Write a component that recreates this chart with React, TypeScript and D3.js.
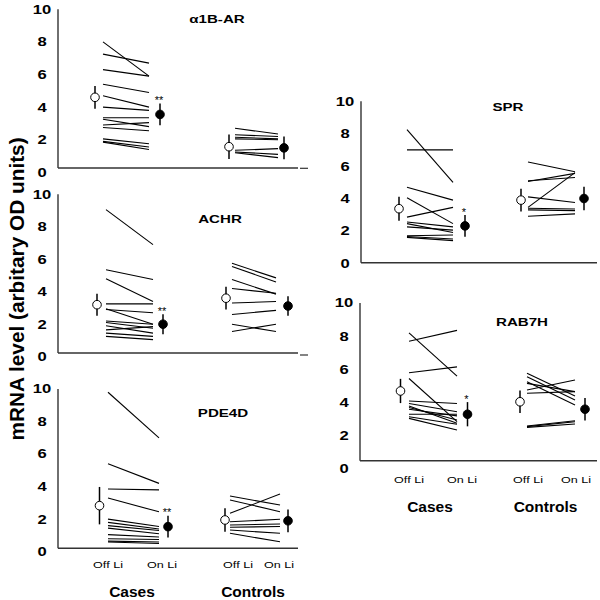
import React from "react";
import * as d3 from "d3";

// ---------- data (mRNA level, arbitrary OD units) ----------
const panelNames = ["α1B-AR", "ACHR", "PDE4D", "SPR", "RAB7H"];
const starLabels = ["**", "**", "**", "*", "*"];
const yTicks = [0, 2, 4, 6, 8, 10];
const xTickLabels = ["Off Li", "On Li", "Off Li", "On Li"];
const groupLabels = ["Cases", "Controls"];
const yTitle = "mRNA level (arbitary OD units)";

// α1B-AR
const a1bCasesOff = [8.0, 7.25, 6.3, 5.4, 4.7, 4.0, 3.35, 3.25, 2.9, 2.75, 2.05, 1.9, 1.85];
const a1bCasesOn = [5.9, 6.7, 5.9, 4.9, 4.0, 3.8, 3.35, 2.8, 3.05, 2.55, 1.75, 1.55, 1.4];
const a1bCtrlOff = [2.7, 2.3, 2.15, 2.05, 1.35, 1.25, 1.2];
const a1bCtrlOn = [2.35, 2.2, 2.05, 2.0, 1.45, 1.1, 0.9];
const a1bMeans = [4.6, 3.55, 1.57, 1.5];
const a1bErrs = [0.7, 0.67, 0.75, 0.7];

// ACHR
const achrCasesOff = [9.05, 5.35, 4.8, 3.25, 2.9, 2.95, 2.2, 2.1, 1.9, 1.65, 1.45, 1.25];
const achrCasesOn = [6.9, 4.75, 3.4, 3.25, 2.7, 2.0, 2.0, 1.75, 1.45, 1.85, 1.25, 1.05];
const achrCtrlOff = [5.75, 5.55, 4.75, 4.2, 3.3, 2.6, 2.0, 1.55];
const achrCtrlOn = [4.85, 4.6, 3.85, 3.9, 3.4, 2.85, 1.55, 2.0];
const achrMeans = [3.2, 2.0, 3.6, 3.12];
const achrErrs = [0.68, 0.62, 0.7, 0.6];

// PDE4D
const pdeCasesOff = [9.8, 5.4, 3.85, 3.3, 2.0, 1.8, 1.6, 1.45, 1.05, 0.8, 0.65, 0.6];
const pdeCasesOn = [7.0, 4.2, 3.8, 2.45, 1.55, 1.4, 1.3, 1.1, 0.9, 0.75, 0.6, 0.5];
const pdeCtrlOff = [3.42, 3.18, 2.36, 1.84, 1.64, 1.5, 1.33, 1.13];
const pdeCtrlOn = [2.87, 2.46, 3.55, 1.99, 1.7, 1.55, 1.13, 0.61];
const pdeMeans = [2.83, 1.54, 1.95, 1.9];
const pdeErrs = [1.15, 0.67, 0.72, 0.7];

// SPR
const sprCasesOff = [8.25, 7.0, 4.7, 4.05, 2.85, 2.55, 2.45, 2.25, 1.7, 1.65, 1.6];
const sprCasesOn = [5.0, 7.0, 3.9, 2.45, 3.45, 2.25, 1.9, 2.05, 1.75, 1.5, 1.4];
const sprCtrlOff = [6.25, 5.05, 5.1, 3.45, 4.1, 3.4, 3.3, 2.9];
const sprCtrlOn = [5.65, 5.55, 5.3, 5.6, 3.75, 3.35, 3.25, 3.05];
const sprMeans = [3.37, 2.31, 3.9, 4.0];
const sprErrs = [0.74, 0.67, 0.7, 0.72];

// RAB7H
const rabCasesOff = [8.2, 7.7, 5.8, 5.45, 4.1, 3.95, 3.8, 3.7, 3.6, 3.3, 3.15, 3.05];
const rabCasesOn = [5.6, 8.35, 6.15, 2.85, 3.95, 3.45, 2.75, 2.95, 3.2, 3.3, 2.7, 2.35];
const rabCtrlOff = [5.77, 5.56, 5.26, 5.16, 4.76, 4.56, 2.59, 2.55, 2.51];
const rabCtrlOn = [4.4, 4.16, 3.86, 4.66, 5.36, 4.66, 2.91, 2.85, 2.71];
const rabMeans = [4.7, 3.3, 4.05, 3.6];
const rabErrs = [0.73, 0.73, 0.68, 0.68];

const panelData = [
  { casesOff: a1bCasesOff, casesOn: a1bCasesOn, ctrlOff: a1bCtrlOff, ctrlOn: a1bCtrlOn, means: a1bMeans, errs: a1bErrs },
  { casesOff: achrCasesOff, casesOn: achrCasesOn, ctrlOff: achrCtrlOff, ctrlOn: achrCtrlOn, means: achrMeans, errs: achrErrs },
  { casesOff: pdeCasesOff, casesOn: pdeCasesOn, ctrlOff: pdeCtrlOff, ctrlOn: pdeCtrlOn, means: pdeMeans, errs: pdeErrs },
  { casesOff: sprCasesOff, casesOn: sprCasesOn, ctrlOff: sprCtrlOff, ctrlOn: sprCtrlOn, means: sprMeans, errs: sprErrs },
  { casesOff: rabCasesOff, casesOn: rabCasesOn, ctrlOff: rabCtrlOff, ctrlOn: rabCtrlOn, means: rabMeans, errs: rabErrs },
];

// ---------- layout (pixels) ----------
const layouts = [
  { ax: 58, right: 298, y0: 172.3, y10: 9.3, axisY: 168, xOpen: 95, xS: 103, xE: 149, xFill: 160, cOpen: 229, cS: 235, cE: 278, cFill: 284, tx: 217, ty: 22.7, xlab: false },
  { ax: 58, right: 298, y0: 356.7, y10: 194.2, axisY: 353, xOpen: 97, xS: 106, xE: 153, xFill: 163, cOpen: 226, cS: 232, cE: 276, cFill: 288, tx: 220, ty: 222.7, xlab: false },
  { ax: 58, right: 298, y0: 551.7, y10: 389, axisY: 548.3, xOpen: 99.5, xS: 108, xE: 159, xFill: 168, cOpen: 225, cS: 230, cE: 280, cFill: 288, tx: 223, ty: 417, xlab: true, labX: [108, 162, 238, 279], labY: 568, grpX: [132, 253], grpY: 596.5 },
  { ax: 361, right: 597, y0: 263.3, y10: 101.3, axisY: 262.7, xOpen: 399, xS: 407, xE: 453, xFill: 465, cOpen: 521, cS: 528, cE: 575, cFill: 584, tx: 508, ty: 110.7, xlab: false },
  { ax: 360, right: 597, y0: 469, y10: 303, axisY: 460.7, xOpen: 400.5, xS: 409, xE: 457, xFill: 467.5, cOpen: 520, cS: 527, cE: 575, cFill: 585, tx: 522, ty: 326, xlab: true, labX: [409, 462, 528, 576], labY: 482.5, grpX: [430, 545.5], grpY: 511.5 },
];

const FONT = "'Liberation Sans', Arial, sans-serif";
const AXIS = "#333";

function STxt({ x, y, sx = 1, anchor = "middle", size, weight = "bold", children, spacing = 0 }: any) {
  return (
    <text
      transform={`translate(${x},${y}) scale(${sx},1)`}
      textAnchor={anchor}
      fontFamily={FONT}
      fontSize={size}
      fontWeight={weight}
      letterSpacing={spacing}
      fill="#000"
    >
      {children}
    </text>
  );
}

function Panel({ idx }: { idx: number }) {
  const L: any = layouts[idx];
  const D = panelData[idx];
  const y = d3.scaleLinear().domain([0, 10]).range([L.y0, L.y10]);
  const pairLine = d3.line<[number, number]>().x((d) => d[0]).y((d) => y(d[1]));
  const meanX = [L.xOpen, L.xFill, L.cOpen, L.cFill];

  const casesPairs = D.casesOff.map((v, i) => [v, D.casesOn[i]]);
  const ctrlPairs = D.ctrlOff.map((v, i) => [v, D.ctrlOn[i]]);

  return (
    <g>
      <line x1={L.ax} x2={L.ax} y1={y(10)} y2={L.axisY} stroke={AXIS} strokeWidth={1.4} />
      <line x1={L.ax} x2={L.right} y1={L.axisY} y2={L.axisY} stroke={AXIS} strokeWidth={1.4} />
      {yTicks.map((t) => (
        <STxt key={t} x={L.ax - 16} y={y(t) + 4.4} sx={1.35} size={12.3}>
          {t}
        </STxt>
      ))}
      <STxt x={L.tx} y={L.ty} sx={1.35} size={11.2}>
        {panelNames[idx]}
      </STxt>

      {casesPairs.map((p, i) => (
        <path key={"c" + i} d={pairLine([[L.xS, p[0]], [L.xE, p[1]]])!} stroke="#000" strokeWidth={1.1} fill="none" />
      ))}
      {ctrlPairs.map((p, i) => (
        <path key={"k" + i} d={pairLine([[L.cS, p[0]], [L.cE, p[1]]])!} stroke="#000" strokeWidth={1.1} fill="none" />
      ))}

      {D.means.map((m, i) => (
        <g key={"m" + i}>
          <line x1={meanX[i]} x2={meanX[i]} y1={y(m + D.errs[i])} y2={y(m - D.errs[i])} stroke="#000" strokeWidth={1.5} />
          <circle cx={meanX[i]} cy={y(m)} r={4.3} fill={i % 2 === 0 ? "#fff" : "#000"} stroke="#000" strokeWidth={1} />
        </g>
      ))}
      <STxt x={meanX[1] - 1} y={y(D.means[1] + D.errs[1]) + 0.5} size={11} weight="normal">
        {starLabels[idx]}
      </STxt>

      {L.xlab && (
        <g>
          {xTickLabels.map((s, i) => (
            <STxt key={"xl" + i} x={L.labX[i]} y={L.labY} sx={1.4} size={9} weight="normal">
              {s}
            </STxt>
          ))}
          {groupLabels.map((s, i) => (
            <STxt key={"gl" + i} x={L.grpX[i]} y={L.grpY} size={15.5}>
              {s}
            </STxt>
          ))}
        </g>
      )}
    </g>
  );
}

export default function App() {
  return (
    <svg
      width={600}
      height={600}
      viewBox="0 0 600 600"
      style={{ position: "absolute", left: 0, top: 0, background: "#fff" }}
    >
      <rect x={0} y={0} width={600} height={600} fill="#fff" />
      {panelNames.map((_, i) => (
        <Panel key={i} idx={i} />
      ))}
      <text
        transform="translate(24,289) rotate(-90)"
        textAnchor="middle"
        fontFamily={FONT}
        fontSize={20.8}
        fontWeight="bold"
        fill="#000"
      >
        {yTitle}
      </text>
      <line x1={300} x2={308} y1={168.3} y2={168.3} stroke={AXIS} strokeWidth={1.2} />
      <line x1={300} x2={308} y1={355} y2={355} stroke={AXIS} strokeWidth={1.2} />
    </svg>
  );
}
